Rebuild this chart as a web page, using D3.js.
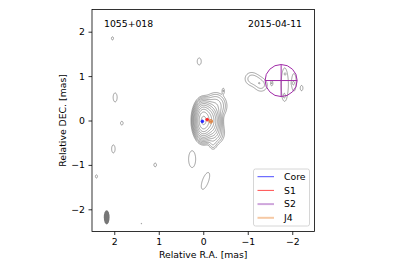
<!DOCTYPE html>
<html>
<head>
<meta charset="utf-8">
<script src="https://cdn.jsdelivr.net/npm/d3@7"></script>
<style>
  body { margin: 0; background: #fff; }
  text { font-family: "DejaVu Sans", sans-serif; }
</style>
</head>
<body>
<div id="chart"></div>
<script>
// source name and epoch
var sourceName = "1055+018";
var epoch = "2015-04-11";

// axis ticks (mas)
var raTicks = [2, 1, 0, -1, -2];
var decTicks = [-2, -1, 0, 1, 2];

// contour levels (relative to lowest contour)
var levels = [1, 2, 4, 8, 16, 32, 64, 128, 256, 512, 1024, 2048];

// brightness model: [RA, DEC, sigmaRA, sigmaDEC, peak, angle(deg)]
var coreBlobs = [
  [0.00, 0.00, 0.07, 0.14, 2400, 0],
  [-0.11, 0.02, 0.07, 0.14, 500, 0],
  [-0.19, -0.02, 0.08, 0.15, 200, 0],
  [-0.28, 0.33, 0.11, 0.13, 14, 0],
  [-0.26, -0.28, 0.10, 0.12, 10, 0],
  [-0.22, -0.52, 0.05, 0.08, 3, 0]
];
var noiseBlobs = [
  [2.04, 1.85, 0.02, 0.03, 2, 0],
  [0.09, 1.33, 0.038, 0.067, 2, 0],
  [-0.45, 0.67, 0.02, 0.047, 2, 0],
  [1.98, 0.52, 0.038, 0.086, 2, 0],
  [1.83, -0.06, 0.025, 0.035, 2, 0],
  [2.02, -0.64, 0.033, 0.077, 2, 0],
  [1.08, -1.00, 0.025, 0.035, 2, 0],
  [0.25, -0.87, 0.067, 0.16, 2, 0],
  [-0.05, -1.36, 0.058, 0.17, 2, 20],
  [2.40, -1.26, 0.02, 0.03, 2, 0],
  [1.39, -2.32, 0.012, 0.012, 1.3, 0],
  // structure around S2
  [-1.08, 0.94, 0.10, 0.10, 2.6, 0],
  [-1.30, 0.80, 0.10, 0.10, 2.6, 0],
  [-1.20, 0.90, 0.08, 0.08, 1.2, 0],
  [-1.26, 0.84, 0.025, 0.025, 1.0, 0],
  [-1.54, 0.84, 0.02, 0.045, 2, 0],
  [-1.83, 0.81, 0.07, 0.33, 1.9, 0],
  [-2.04, 0.86, 0.05, 0.20, 1.6, 0],
  [-1.84, 1.05, 0.015, 0.02, 1.4, 0],
  [-1.82, 0.55, 0.02, 0.04, 1.4, 0],
  [-2.02, 0.84, 0.02, 0.03, 1.2, 0],
  [-2.21, 0.73, 0.025, 0.05, 2, 0]
];

// restoring beam [RA, DEC, semi-RA, semi-DEC]
var beam = [2.17, -2.18, 0.065, 0.16];

// model-fit components
var compNames = ["Core", "S1", "S2", "J4"];
var compRA = [0.02, -0.09, -1.75, -0.17];
var compDEC = [-0.02, 0.02, 0.90, -0.02];
var compSize = [0.03, 0.03, 0.36, 0.04];
var compColors = ["#1f1fff", "#ff1f1f", "#a02aa8", "#e0803c"];
var legendColors = ["#4d4dff", "#ff4d4d", "#cfa6dc", "#f6c9a4"];
var legendWidths = [1, 1, 2, 2];

var width = 407, height = 271;
var margin = { left: 92, right: 92.5, top: 9.5, bottom: 39.5 };
var pw = width - margin.left - margin.right;
var ph = height - margin.top - margin.bottom;

var svg = d3.select("#chart").append("svg")
  .attr("width", width)
  .attr("height", height);

var x = d3.scaleLinear().domain([2.5, -2.5]).range([margin.left, margin.left + pw]);
var y = d3.scaleLinear().domain([-2.5, 2.5]).range([margin.top + ph, margin.top]);

svg.append("clipPath").attr("id", "clip")
  .append("rect")
  .attr("x", margin.left).attr("y", margin.top)
  .attr("width", pw).attr("height", ph);

// brightness grid
var n = 440;
var blobs = coreBlobs.concat(noiseBlobs);
var values = new Float64Array(n * n);
for (var j = 0; j < n; j++) {
  var dec = y.invert(margin.top + (j + 0.5) * ph / n);
  for (var i = 0; i < n; i++) {
    var ra = x.invert(margin.left + (i + 0.5) * pw / n);
    var v = 0;
    blobs.forEach(function(b) {
      var a = b[5] * Math.PI / 180;
      var dx = ra - b[0], dy = dec - b[1];
      var u = dx * Math.cos(a) + dy * Math.sin(a);
      var w = -dx * Math.sin(a) + dy * Math.cos(a);
      var q = (u * u) / (b[2] * b[2]) + (w * w) / (b[3] * b[3]);
      if (q < 40) v += b[4] * Math.exp(-0.5 * q);
    });
    values[j * n + i] = v;
  }
}

var contours = d3.contours().size([n, n]).thresholds(levels)(values);

var gridToPx = d3.geoTransform({
  point: function(gx, gy) {
    this.stream.point(margin.left + gx * pw / n, margin.top + gy * ph / n);
  }
});

var plot = svg.append("g").attr("clip-path", "url(#clip)");

plot.selectAll("path.contour")
  .data(contours)
  .enter().append("path")
  .attr("class", "contour")
  .attr("d", d3.geoPath(gridToPx))
  .attr("fill", "none")
  .attr("stroke", "#707070")
  .attr("stroke-width", 0.65);

// beam
plot.append("ellipse")
  .attr("cx", x(beam[0])).attr("cy", y(beam[1]))
  .attr("rx", Math.abs(x(beam[2]) - x(0)))
  .attr("ry", Math.abs(y(beam[3]) - y(0)))
  .attr("fill", "#777");

// components
compNames.forEach(function(name, k) {
  var cx = x(compRA[k]), cy = y(compDEC[k]);
  var r = Math.abs(x(compSize[k]) - x(0));
  var g = plot.append("g").attr("stroke", compColors[k]).attr("stroke-width", 1).attr("fill", "none");
  g.append("circle").attr("cx", cx).attr("cy", cy).attr("r", r);
  g.append("line").attr("x1", cx - r).attr("x2", cx + r).attr("y1", cy).attr("y2", cy);
  g.append("line").attr("x1", cx).attr("x2", cx).attr("y1", cy - r).attr("y2", cy + r);
});

// axes
var xAxis = d3.axisBottom(x).tickValues(raTicks).tickSize(3.5).tickPadding(3.5)
  .tickFormat(function(d) { return d < 0 ? "\u2212" + Math.abs(d) : d; });
var yAxis = d3.axisLeft(y).tickValues(decTicks).tickSize(3.5).tickPadding(3.5)
  .tickFormat(function(d) { return d < 0 ? "\u2212" + Math.abs(d) : d; });

var gx = svg.append("g").attr("transform", "translate(0," + (margin.top + ph) + ")").call(xAxis);
var gy = svg.append("g").attr("transform", "translate(" + margin.left + ",0)").call(yAxis);
[gx, gy].forEach(function(g) {
  g.select(".domain").remove();
  g.selectAll(".tick line").attr("stroke", "#000").attr("stroke-width", 0.8);
  g.selectAll(".tick text").attr("fill", "#000").style("font-size", "9.3px").style("font-family", "DejaVu Sans");
});

svg.append("rect")
  .attr("x", margin.left).attr("y", margin.top)
  .attr("width", pw).attr("height", ph)
  .attr("fill", "none").attr("stroke", "#000").attr("stroke-width", 0.8);

svg.append("text")
  .attr("x", margin.left + pw / 2).attr("y", 258)
  .attr("text-anchor", "middle").style("font-size", "9.3px")
  .text("Relative R.A. [mas]");

svg.append("text")
  .attr("transform", "translate(66," + (margin.top + ph / 2) + ") rotate(-90)")
  .attr("text-anchor", "middle").style("font-size", "9.3px")
  .text("Relative DEC. [mas]");

svg.append("text").attr("x", 104).attr("y", 27).style("font-size", "9.3px").text(sourceName);
svg.append("text").attr("x", 302).attr("y", 27).attr("text-anchor", "end").style("font-size", "9.3px").text(epoch);

// legend
var lg = svg.append("g");
lg.append("rect")
  .attr("x", 253.5).attr("y", 169).attr("width", 56).attr("height", 57)
  .attr("rx", 2).attr("fill", "rgba(255,255,255,0.8)")
  .attr("stroke", "#ccc").attr("stroke-width", 0.8);
compNames.forEach(function(name, k) {
  var yy = 176.7 + k * 13.7;
  lg.append("line").attr("x1", 257.5).attr("x2", 274).attr("y1", yy).attr("y2", yy)
    .attr("stroke", legendColors[k]).attr("stroke-width", legendWidths[k]);
  lg.append("text").attr("x", 284).attr("y", yy + 3.3).style("font-size", "9.3px").text(name);
});
</script>
</body>
</html>
